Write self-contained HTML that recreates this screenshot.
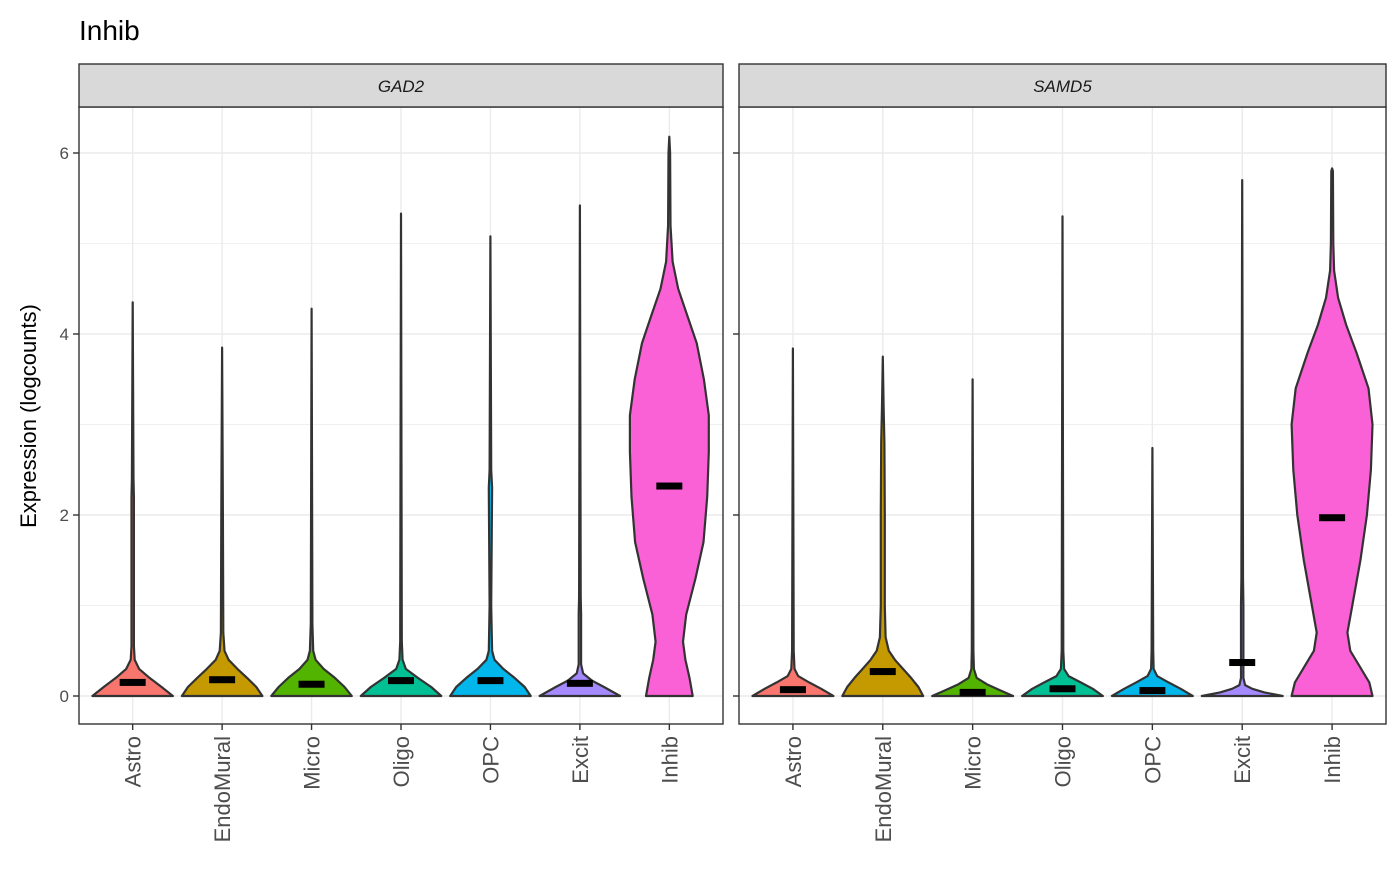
<!DOCTYPE html>
<html><head><meta charset="utf-8">
<style>
body{margin:0;background:#fff;font-family:"Liberation Sans",Arial,sans-serif}
svg text{font-family:"Liberation Sans",Arial,sans-serif}
</style></head>
<body>
<svg id="chart" width="1400" height="866" viewBox="0 0 1400 866" xmlns="http://www.w3.org/2000/svg">
<rect x="0" y="0" width="1400" height="866" fill="#fff"/>
<text x="79" y="40" font-size="28" fill="#000">Inhib</text>
<text transform="translate(36,416) rotate(-90)" text-anchor="middle" font-size="22" fill="#000">Expression (logcounts)</text>
<g id="panels"></g>
</svg>
<script>
const categories = ["Astro","EndoMural","Micro","Oligo","OPC","Excit","Inhib"];
const colors = ["#F8766D","#C49A00","#53B400","#00C094","#00B6EB","#A58AFF","#FB61D7"];
const genes = ["GAD2","SAMD5"];
const yTicks = [0,2,4,6];
const mediansGAD2 = [0.15,0.18,0.13,0.17,0.17,0.14,2.32];
const mediansSAMD5 = [0.07,0.27,0.04,0.08,0.06,0.37,1.97];
const maxGAD2 = [4.35,3.85,4.28,5.33,5.08,5.42,6.18];
const maxSAMD5 = [3.84,3.75,3.50,5.30,2.74,5.70,5.83];
const profGAD2 = [
 [[0,1],[0.1,0.72],[0.2,0.42],[0.3,0.16],[0.4,0.05],[0.55,0.03],[2.2,0.03],[2.4,0.02]],
 [[0,1],[0.1,0.85],[0.2,0.62],[0.3,0.38],[0.4,0.16],[0.5,0.06],[0.7,0.03],[2,0.02]],
 [[0,1],[0.1,0.82],[0.2,0.58],[0.3,0.3],[0.4,0.1],[0.5,0.04],[0.8,0.02]],
 [[0,1],[0.1,0.75],[0.2,0.42],[0.3,0.12],[0.4,0.04],[0.6,0.02]],
 [[0,1],[0.1,0.85],[0.2,0.6],[0.3,0.32],[0.4,0.1],[0.5,0.04],[1,0.02],[2.3,0.04],[2.5,0.02]],
 [[0,1],[0.1,0.6],[0.17,0.3],[0.25,0.08],[0.35,0.03],[0.9,0.03],[1.1,0.02]],
 [[0,0.58],[0.2,0.5],[0.4,0.4],[0.6,0.34],[0.9,0.42],[1.3,0.65],[1.7,0.85],[2.2,0.94],[2.7,0.98],[3.1,0.98],[3.5,0.86],[3.9,0.68],[4.2,0.45],[4.5,0.22],[4.8,0.08],[5.2,0.03],[6,0.02]]
];
const profSAMD5 = [
 [[0,1],[0.08,0.7],[0.15,0.4],[0.22,0.13],[0.3,0.04],[0.5,0.02]],
 [[0,1],[0.1,0.88],[0.2,0.7],[0.3,0.5],[0.4,0.3],[0.5,0.15],[0.65,0.07],[1,0.05],[2,0.05],[2.8,0.04],[3.2,0.02]],
 [[0,1],[0.07,0.65],[0.13,0.35],[0.2,0.1],[0.3,0.03],[0.5,0.02]],
 [[0,1],[0.08,0.75],[0.15,0.45],[0.22,0.15],[0.3,0.04],[0.5,0.02]],
 [[0,1],[0.08,0.7],[0.15,0.4],[0.22,0.12],[0.3,0.03],[0.5,0.02]],
 [[0,1],[0.04,0.55],[0.08,0.25],[0.12,0.07],[0.2,0.03],[1,0.03],[1.3,0.02]],
 [[0,1],[0.15,0.92],[0.3,0.72],[0.5,0.45],[0.7,0.38],[1.0,0.5],[1.5,0.7],[2.0,0.86],[2.5,0.96],[3.0,1.0],[3.4,0.9],[3.8,0.6],[4.1,0.35],[4.4,0.15],[4.7,0.05],[5.0,0.03],[5.8,0.02]]
];
const medians=[mediansGAD2,mediansSAMD5], maxes=[maxGAD2,maxSAMD5], profs=[profGAD2,profSAMD5];
const panelsX=[[79,723],[739,1386]];
const plotTop=107, plotBottom=724, stripTop=64;
const yScale=v=>696 - v*90.5;
const NS="http://www.w3.org/2000/svg";
const g=document.getElementById('panels');
function mk(tag,attrs,parent){const e=document.createElementNS(NS,tag);for(const k in attrs)e.setAttribute(k,attrs[k]);(parent||g).appendChild(e);return e;}
panelsX.forEach((px,pi)=>{
  const x0=px[0], x1=px[1], W=x1-x0, unit=W/7.2;
  const xScale=i=>x0+(0.6+i)*unit;
  const pg=mk('g',{});
  
  
  for(let t=0;t<=6;t+=1){const y=yScale(t);const l=mk('line',{x1:x0,x2:x1,y1:y,y2:y,stroke:'#ebebeb','stroke-width':t%2?0.8:1.4},pg);
    
    }
  categories.forEach((c,i)=>{const l=mk('line',{x1:xScale(i),x2:xScale(i),y1:plotTop,y2:plotBottom,stroke:'#ebebeb','stroke-width':1.4},pg);
    
    });
  categories.forEach((c,i)=>{
    const cx=xScale(i), hw=0.45*unit;
    let pts=profs[pi][i].slice();
    pts.push([maxes[pi][i],0]);
    let right=pts.map(p=>`${(cx+p[1]*hw).toFixed(1)},${yScale(p[0]).toFixed(1)}`);
    let left=pts.slice().reverse().map(p=>`${(cx-p[1]*hw).toFixed(1)},${yScale(p[0]).toFixed(1)}`);
    const v=mk('polygon',{points:right.concat(left).join(' '),fill:colors[i],stroke:'#333','stroke-width':2.2,'stroke-linejoin':'round'},pg);
    
    
    const m=mk('rect',{x:cx-13,y:yScale(medians[pi][i])-3.5,width:26,height:7,fill:'#000'},pg);
    
    
    const tk=mk('line',{x1:cx,x2:cx,y1:plotBottom,y2:plotBottom+6,stroke:'#333','stroke-width':1.4},pg);
    
    
    const tx=mk('text',{transform:`translate(${cx+8},${plotBottom+12}) rotate(-90)`,'text-anchor':'end','font-size':22,fill:'#4d4d4d'},pg);
    tx.textContent=c;
    
    
  });
  const b=mk('rect',{x:x0,y:plotTop,width:W,height:plotBottom-plotTop,fill:'none',stroke:'#333','stroke-width':1.4},pg);
  
  
  const s=mk('rect',{x:x0,y:stripTop,width:W,height:plotTop-stripTop,fill:'#d9d9d9',stroke:'#333','stroke-width':1.4},pg);
  
  
  const st=mk('text',{x:x0+W/2,y:92,'text-anchor':'middle','font-size':17,'font-style':'italic',fill:'#1a1a1a'},pg);
  st.textContent=genes[pi];
  
  
  yTicks.forEach(t=>{
    const y=yScale(t);
    const tk=mk('line',{x1:x0-6,x2:x0,y1:y,y2:y,stroke:'#333','stroke-width':1.4},pg);
    
    
    if(pi===0){const tl=mk('text',{x:x0-10,y:y+6,'text-anchor':'end','font-size':17,fill:'#4d4d4d'},pg);
      tl.textContent=t;
      
      }
  });
});
</script>
</body></html>
